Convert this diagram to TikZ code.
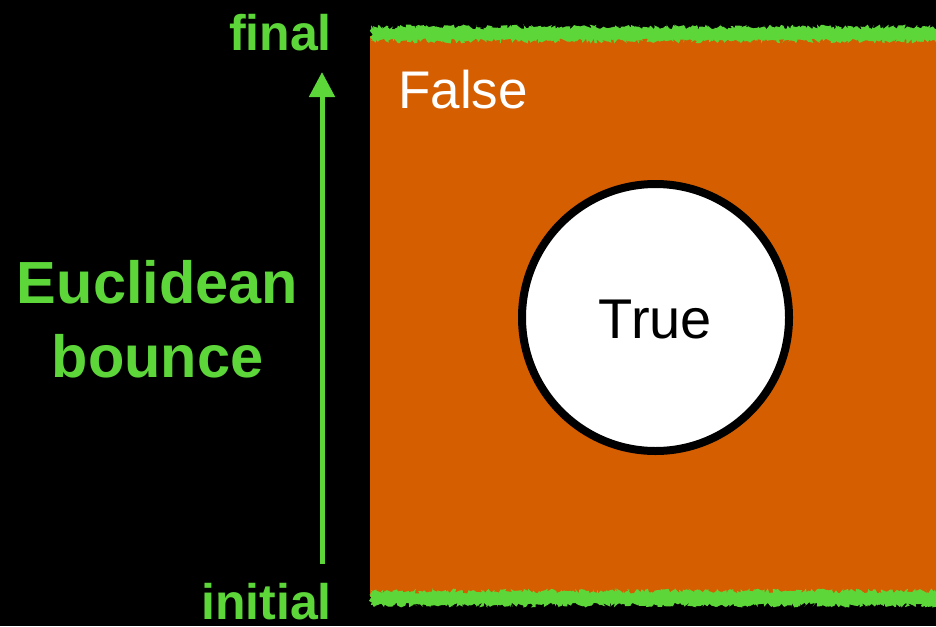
\documentclass[tikz,border=0pt]{standalone}
\usepackage{fontspec}
\setmainfont{Liberation Sans}
\usetikzlibrary{decorations.pathmorphing,arrows.meta}
\definecolor{fgreen}{HTML}{5DD63A}
\definecolor{forange}{HTML}{D55E00}
\tikzset{
  greenlabel/.style={text=fgreen,font=\fontsize{50}{50}\selectfont\bfseries,inner sep=0pt},
  fuzz/.style={fill=fgreen,decorate,decoration={random steps,segment length=1.6pt,amplitude=2.5pt}},
  fuzzb/.style={fill=fgreen,decorate,decoration={random steps,segment length=3pt,amplitude=4pt}},
}
\begin{document}
\begin{tikzpicture}[x=1pt,y=-1pt]
\useasboundingbox (0,0) rectangle (936,626);
\fill[black] (0,0) rectangle (936,626);
% orange region
\fill[forange] (370,36) rectangle (936,597);
% fuzzy green borders
\pgfmathsetseed{7}
\fill[fuzz] (371,27) rectangle (940,41);
\fill[fuzzb] (373,29) rectangle (940,38);
\fill[fuzz] (371,591) rectangle (940,605);
\fill[fuzzb] (373,594) rectangle (940,603);
% labels
\node[greenlabel,anchor=base east] (final) at (332,51) {final};
\node[greenlabel,anchor=base east] (initial) at (332,619) {initial};
\node[greenlabel,font=\fontsize{59.5}{74}\selectfont\bfseries,align=center,anchor=base] (eb) at (157.5,377) {Euclidean\\bounce};
\coordinate (abot) at (322,564);
\coordinate (atop) at (322,72);
\draw[fgreen,line width=5pt,-{Triangle[length=25pt,width=25pt]}] (abot) -- (atop);
\node[text=white,font=\fontsize{53}{53}\selectfont,inner sep=0pt,anchor=base west] (false) at (398,108) {False};
\node[circle,draw=black,line width=8pt,fill=white,minimum size=267pt,inner sep=0pt] (truec) at (655.5,317.5) {};
\node[text=black,font=\fontsize{56}{56}\selectfont,inner sep=0pt,anchor=base] (true) at (655.5,338) {True};
\end{tikzpicture}
\end{document}
